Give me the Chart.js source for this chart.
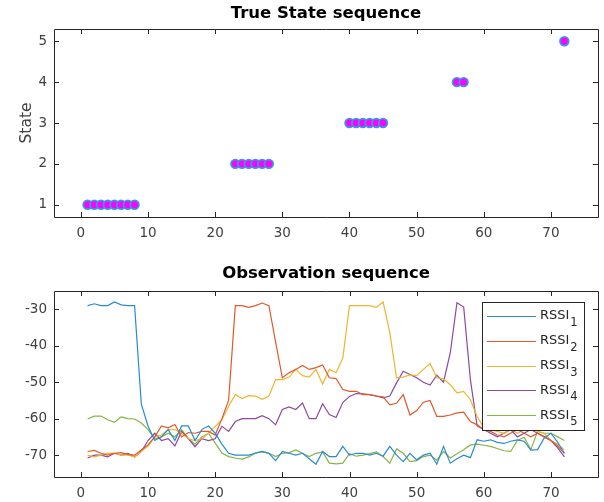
<!DOCTYPE html>
<html>
<head>
<meta charset="utf-8">
<script src="https://cdn.jsdelivr.net/npm/chart.js@4.4.0/dist/chart.umd.min.js"></script>
<style>
  body { margin: 0; background: #fff; }
  canvas { position: absolute; left: 0; }
  #stateChart { top: 0; }
  #obsChart { top: 250px; }
</style>
</head>
<body>
<canvas id="stateChart" width="604" height="250"></canvas>
<canvas id="obsChart" width="604" height="252"></canvas>
<script>
const xTicks = [0, 10, 20, 30, 40, 50, 60, 70];
const stateTicks = [1, 2, 3, 4, 5];
const rssiTicks = [-70, -60, -50, -40, -30];

const stateX = [1, 2, 3, 4, 5, 6, 7, 8, 23, 24, 25, 26, 27, 28, 40, 41, 42, 43, 44, 45, 56, 57, 72];
const stateY = [1, 1, 1, 1, 1, 1, 1, 1, 2, 2, 2, 2, 2, 2, 3, 3, 3, 3, 3, 3, 4, 4, 5];

const rssiLabels = ["1", "2", "3", "4", "5"];
const rssi1 = [-29, -28.5, -29, -29, -28, -28.8, -29, -29, -56, -62, -66, -65, -63, -66, -62, -62, -66, -63, -62, -64,
  -67, -69.5, -70, -70, -70, -69.5, -69, -69.5, -71.5, -69, -69.5, -70, -69.5, -71, -72.5, -69, -70.4, -70.4, -67.6, -70,
  -69.5, -69.5, -70, -69.5, -70.3, -67.6, -70, -71.8, -69.5, -71.3, -70, -69.5, -72.5, -67.6, -72.2, -71, -70, -70.7, -65.8, -66.2,
  -65.8, -66.5, -66.8, -66.2, -65.8, -66.2, -68.6, -68.5, -65.3, -64, -66.5, -69.5];
const rssi2 = [-69, -68.7, -69.5, -70, -69.5, -69.3, -69.8, -70, -68.6, -67.2, -65, -62, -62.5, -61.6, -65, -63.8, -64, -63.5, -63.5, -64.5,
  -60, -55, -29, -29, -29.5, -29, -28.3, -29, -39, -48.8, -47.4, -46.5, -45.4, -46.5, -46, -45.3, -48.8, -49, -52, -52.5,
  -52.5, -53.4, -53.4, -53.8, -54, -56.2, -55.8, -53.4, -59, -57.8, -55.5, -55, -59.4, -59.4, -59, -58.4, -58.2, -60.8, -61.7, -63,
  -63.5, -64.5, -65, -64, -63, -64, -65, -64, -65, -66, -67.5, -69.5];
const rssi3 = [-70, -70.5, -70, -69.5, -69.5, -70, -70, -70.5, -69, -67.5, -65, -64.5, -63, -63, -64, -65.5, -66, -65.5, -64, -62.1,
  -60.3, -56.6, -53.4, -54.5, -53.7, -53.8, -54.7, -53.8, -49.3, -49.3, -48.6, -46.5, -48.2, -48.6, -46.5, -50.5, -46.5, -47.4, -43.4, -29,
  -29, -29, -29, -29.5, -28, -36.4, -48.8, -48.6, -48, -48.2, -46.5, -44.9, -48.8, -49.1, -50.7, -52.9, -52.5, -54.8, -59.4, -62.5,
  -63, -63.5, -64, -63, -64, -63, -62.5, -63.5, -64, -66, -67, -68.5];
const rssi4 = [-70.8, -70, -70, -70.5, -69.5, -70, -69.5, -70.5, -69, -66, -64, -66, -65.5, -67.5, -63.5, -65.5, -67.7, -65.5, -66, -65.5,
  -62.1, -63.5, -60.8, -60, -60, -60, -59.2, -60, -61.7, -57.5, -56.8, -57.5, -55.7, -60, -60, -55.9, -58.9, -59.7, -55.6, -53.9,
  -53.1, -53.2, -53.4, -53.8, -54.3, -53.8, -50.2, -47, -47.9, -48.8, -50, -50.8, -48.1, -50, -42, -28.2, -29.4, -49.3, -62, -63,
  -64, -65, -64, -63, -65, -64, -63, -64, -65, -66, -68, -70.5];
const rssi5 = [-60.1, -59.3, -59.3, -60.3, -61, -59.5, -60, -60.1, -61.2, -63, -65.5, -65, -64, -65, -63, -65.5, -67, -65, -64, -66.7,
  -69.4, -70.4, -70.8, -71.1, -70.5, -69.4, -69.1, -69.5, -70.4, -69.5, -69.3, -68.6, -69.5, -70.4, -69.5, -69.1, -72.2, -72.4, -72.2, -69.6,
  -70.3, -70, -69.6, -69.1, -70.4, -72.2, -68.3, -69.5, -71.8, -71.5, -70.4, -70, -71.4, -69, -70.8, -69.6, -68.5, -67.2, -67, -67.3,
  -67.6, -68.2, -68.8, -69, -66, -65.1, -68.5, -63.5, -64, -64, -65, -66];

const seriesColors = ["#2a8bd4", "#e0592a", "#f0b52e", "#8e48a0", "#84b545"];
const fontFamily = "'DejaVu Sans', sans-serif";
const tickColor = "#404040";

// matlab style box with inward ticks, title centred on the axes
const boxPlugin = {
  id: "box",
  afterDraw(chart, args, opts) {
    const { ctx, chartArea: a, scales } = chart;
    ctx.save();
    ctx.strokeStyle = "#262626";
    ctx.lineWidth = 1;
    ctx.beginPath();
    ctx.rect(Math.round(a.left) + 0.5, Math.round(a.top) + 0.5, Math.round(a.right - a.left), Math.round(a.bottom - a.top));
    scales.x.ticks.forEach((t) => {
      const px = Math.round(scales.x.getPixelForValue(t.value)) + 0.5;
      ctx.moveTo(px, a.bottom); ctx.lineTo(px, a.bottom - 5);
      ctx.moveTo(px, a.top); ctx.lineTo(px, a.top + 5);
    });
    scales.y.ticks.forEach((t) => {
      const py = Math.round(scales.y.getPixelForValue(t.value)) + 0.5;
      ctx.moveTo(a.left, py); ctx.lineTo(a.left + 5, py);
      ctx.moveTo(a.right, py); ctx.lineTo(a.right - 5, py);
    });
    ctx.stroke();
    if (opts.title) {
      ctx.fillStyle = "#000";
      ctx.font = "bold 16.5px " + fontFamily;
      ctx.textAlign = "center";
      ctx.textBaseline = "middle";
      ctx.fillText(opts.title, (a.left + a.right) / 2, a.top - opts.titleGap);
    }
    ctx.restore();
  }
};

const rssiLegend = {
  id: "rssiLegend",
  afterDraw(chart) {
    const { ctx } = chart;
    const left = 482, top = 52, right = 584, bottom = 180;
    ctx.save();
    ctx.fillStyle = "#fff";
    ctx.fillRect(left, top, right - left, bottom - top);
    ctx.strokeStyle = "#262626";
    ctx.lineWidth = 1;
    ctx.strokeRect(left + 0.5, top + 0.5, right - left, bottom - top);
    chart.data.datasets.forEach((ds, i) => {
      const y = top + 14 + i * 24.8;
      ctx.strokeStyle = ds.borderColor;
      ctx.lineWidth = 1.2;
      ctx.beginPath();
      ctx.moveTo(487, Math.round(y) + 0.5);
      ctx.lineTo(536, Math.round(y) + 0.5);
      ctx.stroke();
      ctx.fillStyle = "#262626";
      ctx.textBaseline = "middle";
      ctx.font = "13px " + fontFamily;
      ctx.fillText("RSSI", 540, y);
      const w = ctx.measureText("RSSI").width;
      ctx.font = "11.5px " + fontFamily;
      ctx.fillText(rssiLabels[i], 540 + w + 1, y + 7);
    });
    ctx.restore();
  }
};

function fixedTicks(values) {
  return (scale) => { scale.ticks = values.map((v) => ({ value: v })); };
}

function axisX(height) {
  return {
    type: "linear", min: -4, max: 77,
    afterBuildTicks: fixedTicks(xTicks),
    afterFit: (s) => { s.height = height; },
    grid: { display: false, drawTicks: false },
    border: { display: false },
    ticks: { color: tickColor, padding: 8, font: { family: fontFamily, size: 13.5 } }
  };
}

function axisY(min, max, values, title) {
  return {
    min, max,
    afterBuildTicks: fixedTicks(values),
    afterFit: (s) => { s.width = 54; },
    grid: { display: false, drawTicks: false },
    border: { display: false },
    ticks: { color: tickColor, padding: 7, font: { family: fontFamily, size: 13.5 } },
    title: title ? { display: true, text: title, color: tickColor, padding: { top: 18, bottom: 0 }, font: { family: fontFamily, size: 15.5 } } : { display: false }
  };
}

new Chart(document.getElementById("stateChart"), {
  type: "scatter",
  data: {
    datasets: [{
      label: "State",
      data: stateX.map((x, i) => ({ x, y: stateY[i] })),
      pointRadius: 4.3,
      pointBorderWidth: 1.8,
      pointBackgroundColor: "#ff00ff",
      pointBorderColor: "#3a96e0"
    }]
  },
  options: {
    responsive: false, animation: false, devicePixelRatio: 1,
    layout: { padding: { left: 0, right: 6, top: 29, bottom: 0 } },
    plugins: { legend: { display: false }, tooltip: { enabled: false }, title: { display: false }, box: { title: "True State sequence", titleGap: 15 } },
    scales: { x: axisX(33), y: axisY(0.7, 5.3, stateTicks, "State") }
  },
  plugins: [boxPlugin]
});

new Chart(document.getElementById("obsChart"), {
  type: "line",
  data: {
    datasets: [rssi1, rssi2, rssi3, rssi4, rssi5].map((vals, k) => ({
      label: "RSSI" + rssiLabels[k],
      data: vals.map((v, i) => ({ x: i + 1, y: v })),
      borderColor: seriesColors[k],
      borderWidth: 1.2,
      pointRadius: 0,
      tension: 0,
      fill: false
    }))
  },
  options: {
    responsive: false, animation: false, devicePixelRatio: 1,
    layout: { padding: { left: 0, right: 6, top: 41, bottom: 0 } },
    plugins: { legend: { display: false }, tooltip: { enabled: false }, title: { display: false }, box: { title: "Observation sequence", titleGap: 17 } },
    scales: { x: axisX(25), y: axisY(-76, -25, rssiTicks, null) }
  },
  plugins: [boxPlugin, rssiLegend]
});
</script>
</body>
</html>
